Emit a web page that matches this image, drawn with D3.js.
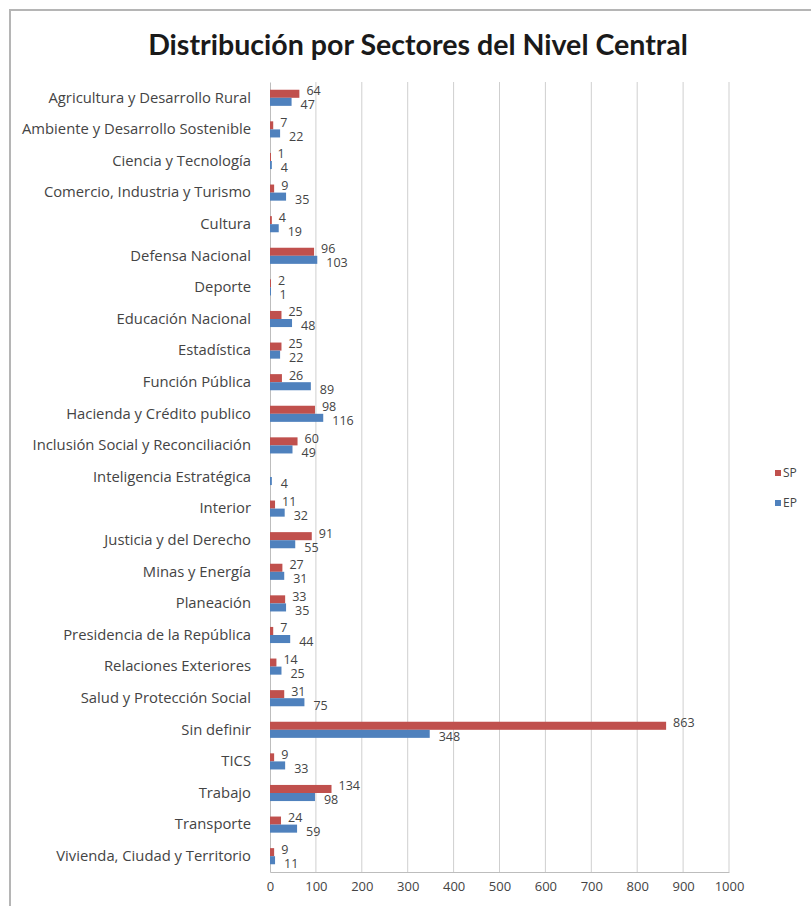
<!DOCTYPE html>
<html>
<head>
<meta charset="utf-8">
<script src="https://cdn.jsdelivr.net/npm/d3@7"></script>
<style>
  html, body { margin: 0; padding: 0; background: #fff; }
  svg { display: block; }
  text { font-family: "Open Sans", Lato, sans-serif; }
</style>
</head>
<body>
<script>
// Sector names of the central level, top to bottom
const sectors = [
  "Agricultura y Desarrollo Rural",
  "Ambiente y Desarrollo Sostenible",
  "Ciencia y Tecnología",
  "Comercio, Industria y Turismo",
  "Cultura",
  "Defensa Nacional",
  "Deporte",
  "Educación Nacional",
  "Estadística",
  "Función Pública",
  "Hacienda y Crédito publico",
  "Inclusión Social y Reconciliación",
  "Inteligencia Estratégica",
  "Interior",
  "Justicia y del Derecho",
  "Minas y Energía",
  "Planeación",
  "Presidencia de la República",
  "Relaciones Exteriores",
  "Salud y Protección Social",
  "Sin definir",
  "TICS",
  "Trabajo",
  "Transporte",
  "Vivienda, Ciudad y Territorio"
];

// Series values
const spValues = [64, 7, 1, 9, 4, 96, 2, 25, 25, 26, 98, 60, null, 11, 91, 27, 33, 7, 14, 31, 863, 9, 134, 24, 9];
const epValues = [47, 22, 4, 35, 19, 103, 1, 48, 22, 89, 116, 49, 4, 32, 55, 31, 35, 44, 25, 75, 348, 33, 98, 59, 11];

const seriesNames = ["SP", "EP"];
const seriesColors = ["#C0504D", "#4F81BD"];
const xTicks = [0, 100, 200, 300, 400, 500, 600, 700, 800, 900, 1000];
const titleText = "Distribución por Sectores del Nivel Central";

const W = 811, H = 906;
const plot = { left: 270, right: 729, top: 82, bottom: 872 };
const fontStack = "'Open Sans', Lato, sans-serif";

const svg = d3.select("body").append("svg").attr("width", W).attr("height", H);

// chart frame
svg.append("rect")
  .attr("x", 10).attr("y", 10).attr("width", 830).attr("height", 930)
  .attr("fill", "#fff").attr("stroke", "#b5b5b5").attr("stroke-width", 2);

// title, sized to span its box
const title = svg.append("text")
  .attr("x", 418).attr("y", 55)
  .attr("text-anchor", "middle")
  .attr("font-size", 24).attr("font-weight", "bold")
  .attr("fill", "#1a1a1a")
  .style("font-family", "Lato, 'Open Sans', sans-serif")
  .text(titleText);
const tw = title.node().getComputedTextLength();
title.attr("font-size", 24 * 540 / tw);

const x = d3.scaleLinear().domain([0, 1000]).range([plot.left, plot.right]);
const y = d3.scaleBand().domain(sectors).range([plot.top, plot.bottom]).paddingInner(0.49).paddingOuter(0.245);
const ySub = d3.scaleBand().domain(seriesNames).range([0, y.bandwidth()]);

// vertical gridlines
svg.append("g")
  .selectAll("line")
  .data(xTicks.slice(1))
  .join("line")
  .attr("x1", d => x(d)).attr("x2", d => x(d))
  .attr("y1", plot.top).attr("y2", plot.bottom)
  .attr("stroke", "#cfcfcf").attr("stroke-width", 1);

// bottom value axis
const xAxis = svg.append("g")
  .attr("transform", `translate(0,${plot.bottom})`)
  .call(d3.axisBottom(x).tickValues(xTicks).tickFormat(d3.format("d")).tickSize(0).tickPadding(10));
xAxis.select(".domain").attr("stroke", "#bdbdbd");
xAxis.selectAll("text").attr("font-size", 13).attr("fill", "#444")
  .style("font-family", fontStack);

// left category axis
const yAxis = svg.append("g")
  .attr("transform", `translate(${plot.left},0)`)
  .call(d3.axisLeft(y).tickSize(0).tickPadding(19));
yAxis.select(".domain").attr("stroke", "#bdbdbd");
yAxis.selectAll("text").attr("font-size", 14.8).attr("fill", "#444")
  .style("font-family", fontStack);

const rows = sectors.map((s, i) => ({ sector: s, values: [spValues[i], epValues[i]] }));

const groups = svg.append("g").selectAll("g")
  .data(rows)
  .join("g")
  .attr("transform", d => `translate(0,${y(d.sector)})`);

groups.selectAll("rect")
  .data(d => d.values.map((v, k) => ({ v, k })).filter(e => e.v != null))
  .join("rect")
  .attr("x", x(0))
  .attr("y", e => ySub(seriesNames[e.k]))
  .attr("width", e => Math.max(1, x(e.v) - x(0)))
  .attr("height", ySub.bandwidth())
  .attr("fill", e => seriesColors[e.k]);

// value labels at the outer end of each bar
groups.selectAll("text")
  .data(d => d.values.map((v, k) => ({ v, k })).filter(e => e.v != null))
  .join("text")
  .attr("x", e => x(e.v) + (e.k === 0 ? 7 : 9))
  .attr("y", e => ySub(seriesNames[e.k]) + ySub.bandwidth() / 2 + (e.k === 0 ? -3 : 3))
  .attr("dy", "0.35em")
  .attr("font-size", 12.5)
  .attr("fill", "#444")
  .text(e => e.v);

// legend
const legend = svg.append("g").selectAll("g")
  .data(seriesNames)
  .join("g")
  .attr("transform", (d, i) => `translate(775,${470 + i * 30})`);
legend.append("rect").attr("width", 6).attr("height", 6)
  .attr("fill", (d, i) => seriesColors[i]);
legend.append("text").attr("x", 8).attr("y", 3).attr("dy", "0.35em")
  .attr("font-size", 12).attr("fill", "#444").text(d => d);
</script>
</body>
</html>
